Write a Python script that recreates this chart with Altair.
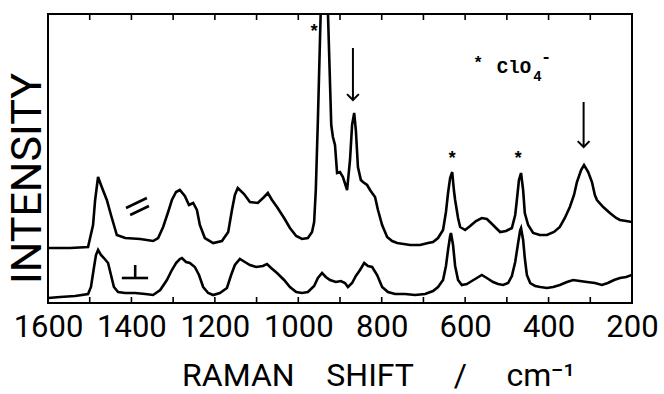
import altair as alt
import pandas as pd

# ---- upper trace (parallel polarisation) ----
par_shift = [1600, 1547, 1504, 1492, 1487, 1480, 1473, 1459, 1449, 1435, 1415, 1379, 1348, 1336,
             1324, 1312, 1303, 1293, 1284, 1272, 1262, 1252, 1243, 1236, 1224, 1204, 1183, 1168,
             1159, 1152, 1145, 1130, 1116, 1097, 1082, 1073, 1063, 1051, 1034, 1020, 1005, 991,
             977, 967, 962, 958, 953, 948, 938, 921, 917, 912, 907, 900, 893, 883, 876, 871, 866,
             862, 857, 850, 845, 835, 828, 823, 816, 809, 799, 787, 775, 763, 732, 708, 689, 677,
             665, 653, 646, 641, 636, 631, 627, 624, 617, 612, 600, 588, 574, 560, 548, 538, 526,
             516, 502, 488, 480, 476, 471, 466, 461, 457, 449, 437, 421, 404, 387, 373, 361, 349,
             339, 332, 322, 315, 305, 296, 289, 284, 269, 253, 238, 229, 214, 200]
par_int = [55, 55, 56, 78, 103, 126, 118, 103, 88, 68, 65, 64, 62, 65,
           76, 91, 103, 111, 113, 107, 98, 100, 93, 78, 65, 60, 62, 71,
           93, 108, 115, 109, 101, 100, 106, 110, 103, 96, 85, 75, 67, 64,
           65, 71, 81, 113, 183, 263, 420, 178, 166, 158, 130, 131, 126, 113, 143, 178, 190,
           173, 136, 123, 121, 118, 113, 110, 106, 93, 78, 66, 62, 60, 58, 58, 60, 61,
           65, 73, 91, 110, 125, 131, 113, 103, 85, 76, 73, 77, 82, 85, 84, 80, 75,
           71, 72, 75, 88, 103, 123, 130, 113, 90, 78, 70, 68, 68, 71, 76, 85, 96,
           108, 121, 133, 138, 131, 121, 108, 103, 96, 90, 85, 83, 82, 81]

# ---- lower trace (perpendicular polarisation) ----
perp_shift = [1600, 1571, 1535, 1504, 1497, 1490, 1485, 1480, 1473, 1466, 1456, 1449, 1442, 1432,
              1415, 1391, 1367, 1348, 1331, 1315, 1303, 1293, 1284, 1279, 1269, 1260, 1248, 1238,
              1228, 1216, 1204, 1188, 1171, 1161, 1152, 1140, 1128, 1116, 1101, 1085, 1075, 1065,
              1051, 1034, 1020, 1005, 991, 977, 962, 953, 943, 934, 924, 910, 898, 888, 881, 871,
              862, 852, 842, 833, 823, 811, 799, 785, 768, 744, 720, 696, 677, 665, 653, 646, 641,
              636, 634, 629, 624, 617, 608, 596, 584, 572, 560, 548, 533, 521, 509, 497, 488, 480,
              473, 468, 466, 461, 457, 452, 444, 432, 420, 404, 389, 373, 356, 341, 325, 308, 289,
              272, 258, 243, 229, 214, 200]
perp_int = [5, 6, 7, 9, 16, 35, 48, 53, 48, 45, 40, 28, 16, 11,
            10, 10, 9, 8, 13, 23, 33, 40, 44, 45, 41, 40, 36, 28,
            16, 10, 8, 10, 15, 28, 38, 44, 41, 38, 36, 37, 39, 35,
            30, 23, 16, 11, 10, 11, 17, 25, 30, 26, 23, 21, 22, 20, 16, 20,
            27, 33, 40, 37, 36, 28, 16, 11, 9, 9, 8, 9, 12, 16, 23, 37, 53,
            67, 70, 58, 37, 23, 18, 19, 22, 25, 28, 25, 21, 19, 18, 20, 27, 41,
            60, 73, 75, 63, 45, 28, 20, 17, 16, 15, 16, 18, 21, 23, 22, 21, 20,
            18, 20, 23, 25, 26, 28]

# ---- axes ----
label_values = [1600, 1400, 1200, 1000, 800, 600, 400, 200]
minor_ticks = [1500, 1400, 1300, 1200, 1100, 1000, 900, 800, 700, 600, 500, 400, 300]

# ---- annotations (data coordinates) ----
star_shift = [962, 631, 473]
star_int = [275, 148, 148]

arrow_shift = [869, 316]
arrow_top = [255, 201]
arrow_tip = [203, 156]

# polarisation symbols "//" and "⊥" drawn as strokes
sym_x = [1413, 1403, 1423, 1391]
sym_x2 = [1363, 1358, 1360, 1391]
sym_y = [95, 88, 25, 25]
sym_y2 = [105, 97, 25, 38]

# "* ClO4-" key
key_star = [569, 244]
key_text = ["ClO", "4", "-"]
key_shift = [524, 437, 418]
key_int = [230, 222, 241]
key_size = [19, 14, 17]

spec = pd.concat([
    pd.DataFrame({"shift": par_shift, "intensity": par_int, "pol": "parallel"}),
    pd.DataFrame({"shift": perp_shift, "intensity": perp_int, "pol": "perpendicular"}),
], ignore_index=True)
spec["idx"] = range(len(spec))

xscale = alt.Scale(domain=[1600, 200], nice=False, zero=False)
yscale = alt.Scale(domain=[0, 289], nice=False, zero=False)
FONT = "Roboto"

title_x = "RAMAN\u00a0\u00a0\u00a0\u00a0SHIFT\u00a0\u00a0\u00a0\u00a0\u00a0/\u00a0\u00a0\u00a0\u00a0\u00a0cm\u207b\u00b9"

x_axis = alt.Axis(
    values=label_values, format="d", labelFont=FONT, labelFontSize=31, labelColor="black",
    ticks=False, tickSize=0, domain=False, grid=False, labelPadding=9,
    labelFlush=False, labelOverlap=False, labelBound=False,
    title=title_x, titleFont=FONT, titleFontSize=32, titleFontWeight="normal",
    titleColor="black", titleX=330, titleY=82, titleAlign="center",
    titleBaseline="alphabetic")
y_axis = alt.Axis(
    labels=False, ticks=False, domain=False, grid=False,
    title="INTENSITY", titleFont=FONT, titleFontSize=43, titleFontWeight="normal",
    titleColor="black", titleAngle=270, titleX=-21, titleY=164,
    titleAlign="center", titleBaseline="middle")


def X(field):
    return alt.X(field, scale=xscale, axis=x_axis)


def Y(field):
    return alt.Y(field, scale=yscale, axis=y_axis)


lines = alt.Chart(spec).mark_line(color="black", strokeWidth=2.6, clip=True).encode(
    x=X("shift:Q"), y=Y("intensity:Q"), detail="pol:N", order=alt.Order("idx:Q"))

tick_df = pd.DataFrame({"t": minor_ticks})
ticks_bottom = alt.Chart(tick_df).mark_rule(color="black", strokeWidth=1.6).encode(
    x=X("t:Q"), y=alt.value(289), y2=alt.value(283))
ticks_top = alt.Chart(tick_df).mark_rule(color="black", strokeWidth=1.6).encode(
    x=X("t:Q"), y=alt.value(0), y2=alt.value(6))

stars = alt.Chart(pd.DataFrame({"s": star_shift, "i": star_int})).mark_text(
    text="*", font="Liberation Mono", fontWeight="bold", fontSize=18, baseline="middle",
    dy=4, color="black").encode(x=X("s:Q"), y=Y("i:Q"))

arr_df = pd.DataFrame({"s": arrow_shift, "top": arrow_top, "tip": arrow_tip})
shafts = alt.Chart(arr_df).mark_rule(color="black", strokeWidth=2).encode(
    x=X("s:Q"), y=Y("top:Q"), y2="tip:Q")
heads = alt.Chart(arr_df).mark_point(
    shape="M-1,-1L0,0L1,-1", size=140, filled=False, stroke="black", strokeWidth=2,
    opacity=1).encode(x=X("s:Q"), y=Y("tip:Q"))

sym = alt.Chart(pd.DataFrame({"x": sym_x, "x2": sym_x2, "y": sym_y, "y2": sym_y2})).mark_rule(
    color="black", strokeWidth=2.6).encode(
    x=X("x:Q"), x2="x2:Q", y=Y("y:Q"), y2="y2:Q")

key_star_layer = alt.Chart(pd.DataFrame({"s": [key_star[0]], "i": [key_star[1]]})).mark_text(
    text="*", font="Liberation Mono", fontWeight="bold", fontSize=17, baseline="middle",
    dy=4, color="black").encode(x=X("s:Q"), y=Y("i:Q"))

key_layer = alt.Chart(pd.DataFrame({"t": key_text, "s": key_shift, "i": key_int,
                                    "fs": key_size})).mark_text(
    font="Liberation Mono", fontWeight="bold", align="left", baseline="alphabetic",
    color="black").encode(
    x=X("s:Q"), y=Y("i:Q"), text="t:N", size=alt.Size("fs:Q", scale=None, legend=None))

chart = alt.layer(lines, ticks_bottom, ticks_top, stars, shafts, heads, sym,
                  key_star_layer, key_layer).properties(
    width=584, height=289,
    autosize=alt.AutoSizeParams(type="none"),
    padding={"left": 48, "top": 14, "right": 32, "bottom": 91},
    background="white",
).configure_view(stroke="black", strokeWidth=2)

chart.save("out.html", embed_options={"renderer": "svg", "actions": False})
